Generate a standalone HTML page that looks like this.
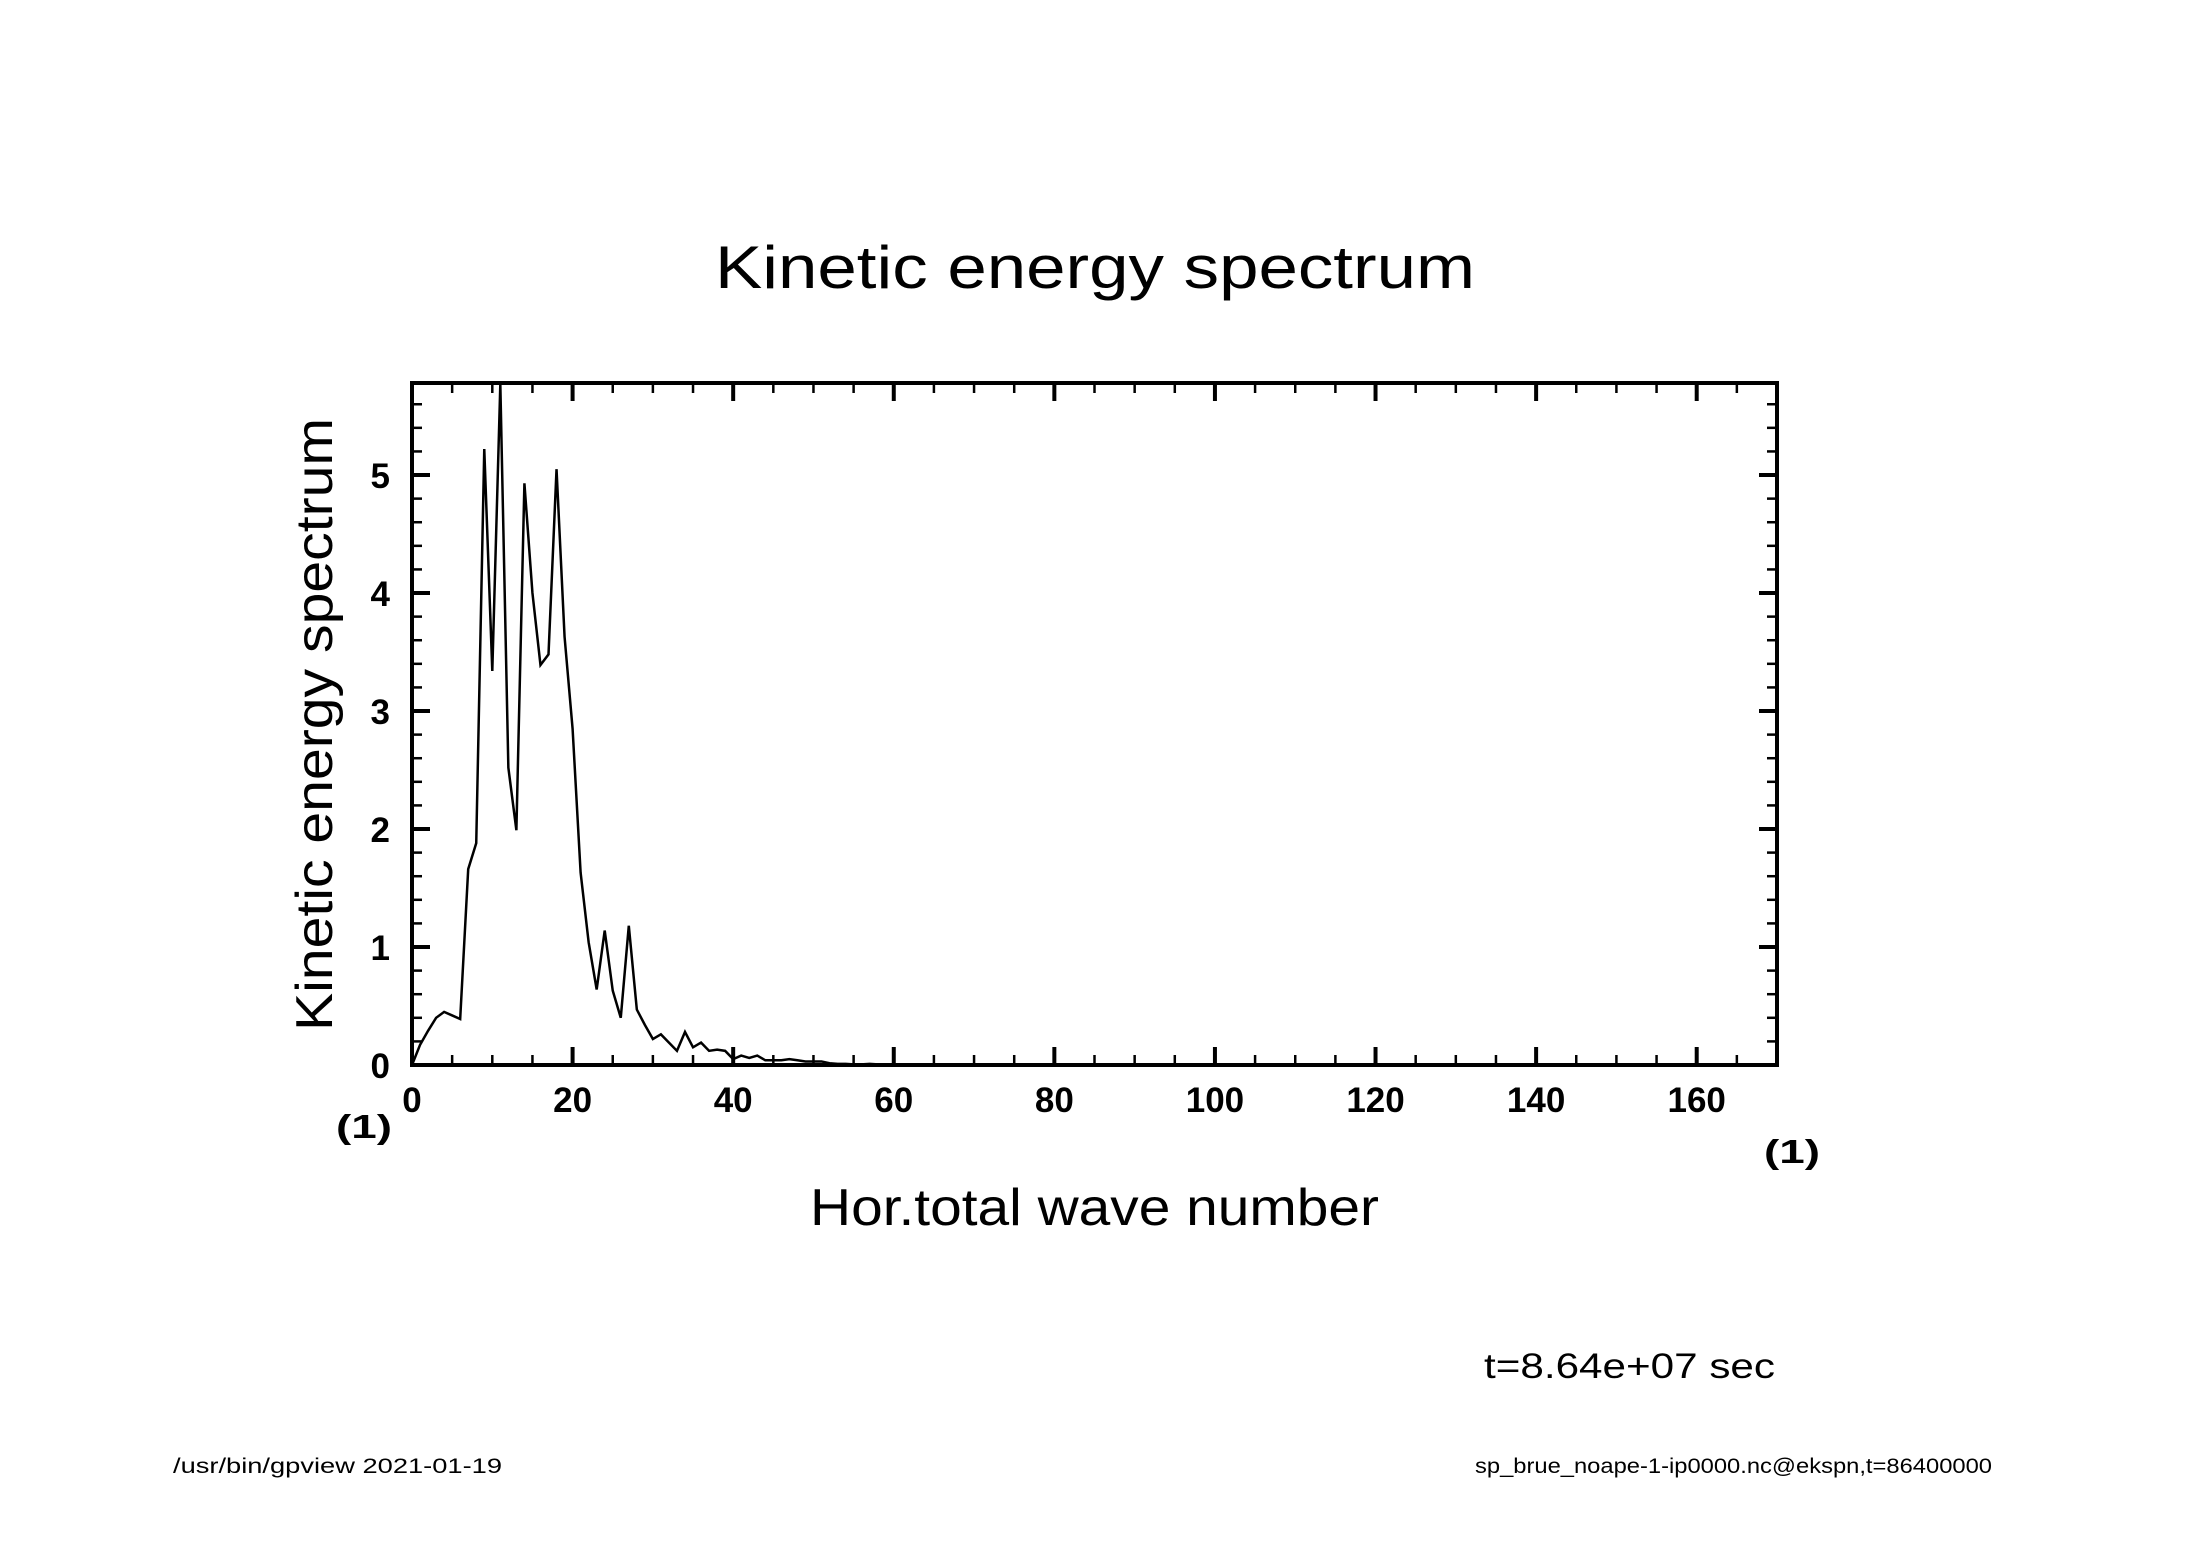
<!DOCTYPE html>
<html><head><meta charset="utf-8"><style>
html,body{margin:0;padding:0;background:#fff;}
svg{display:block;}
text{font-family:"Liberation Sans",sans-serif;fill:#000;}
</style></head><body>
<svg id="chart" width="2188" height="1546" viewBox="0 0 2188 1546" xmlns="http://www.w3.org/2000/svg">
<rect width="2188" height="1546" fill="#fff"/>
<text x="715" y="288" font-size="60" textLength="760" lengthAdjust="spacingAndGlyphs">Kinetic energy spectrum</text>
<text transform="translate(332,1031) rotate(-90)" font-size="52" textLength="613" lengthAdjust="spacingAndGlyphs">Kinetic energy spectrum</text>
<text x="810" y="1225" font-size="52" textLength="569" lengthAdjust="spacingAndGlyphs">Hor.total wave number</text>
<text x="336" y="1138" font-size="33" font-weight="bold" textLength="56" lengthAdjust="spacingAndGlyphs">(1)</text>
<text x="1764" y="1163" font-size="33" font-weight="bold" textLength="56" lengthAdjust="spacingAndGlyphs">(1)</text>
<text x="1484" y="1378" font-size="35" textLength="291" lengthAdjust="spacingAndGlyphs">t=8.64e+07 sec</text>
<text x="173" y="1473" font-size="21" textLength="329" lengthAdjust="spacingAndGlyphs">/usr/bin/gpview  2021-01-19</text>
<text x="1475" y="1473" font-size="21" textLength="517" lengthAdjust="spacingAndGlyphs">sp_brue_noape-1-ip0000.nc@ekspn,t=86400000</text>
<g id="ticks"></g>
<g id="series"></g>
<rect x="412" y="383" width="1365" height="682" fill="none" stroke="#000" stroke-width="4"/>
</svg>
<script>
const xTicks = [0,20,40,60,80,100,120,140,160];
const yTicks = [0,1,2,3,4,5];
const waveNumbers = [0,1,2,3,4,5,6,7,8,9,10,11,12,13,14,15,16,17,18,19,20,21,22,23,24,25,26,27,28,29,30,31,32,33,34,35,36,37,38,39,40,41,42,43,44,45,46,47,48,49,50,51,52,53,54,55,56,57,58,59,60,70,80,100,120,140,170];
const energy = [0,0.17,0.29,0.4,0.45,0.42,0.39,1.66,1.88,5.22,3.34,5.77,2.52,1.99,4.93,4.0,3.39,3.48,5.05,3.63,2.85,1.63,1.04,0.64,1.14,0.63,0.40,1.18,0.47,0.34,0.22,0.26,0.19,0.12,0.28,0.15,0.19,0.12,0.13,0.12,0.05,0.08,0.06,0.08,0.04,0.04,0.04,0.05,0.04,0.03,0.03,0.03,0.015,0.01,0.01,0.005,0.005,0.01,0.005,0.003,0.002,0.001,0,0,0,0,0];
const X0=412, X1=1777, Y0=1065, Y1=383, XMAX=170, YMAX=5.78;
const sx = v => X0 + (v/XMAX)*(X1-X0);
const sy = v => Y0 - (v/YMAX)*(Y0-Y1);
const NS="http://www.w3.org/2000/svg";
const tg=document.getElementById('ticks');
function line(x1,y1,x2,y2,w,name){
  const l=document.createElementNS(NS,'line');
  l.setAttribute('x1',x1);l.setAttribute('y1',y1);l.setAttribute('x2',x2);l.setAttribute('y2',y2);
  l.setAttribute('stroke','#000');l.setAttribute('stroke-width',w);
  
  
  tg.appendChild(l);
}
for(let v=0; v<=XMAX; v+=5){
  const major = v%20===0; const len = major?18:10; const x=sx(v);
  line(x,Y0,x,Y0-len,major?4:2.5,'x-tick');
  line(x,Y1,x,Y1+len,major?4:2.5,'x-tick-top');
}
for(let i=0; i*0.2<=YMAX; i++){
  const v=i*0.2; const major=i%5===0; const len=major?18:10; const y=sy(v);
  line(X0,y,X0+len,y,major?4:2.5,'y-tick');
  line(X1,y,X1-len,y,major?4:2.5,'y-tick-right');
}
xTicks.forEach(v=>{
  const t=document.createElementNS(NS,'text');
  t.setAttribute('x',sx(v));t.setAttribute('y',1112);t.setAttribute('text-anchor','middle');
  t.setAttribute('font-size','35');t.setAttribute('font-weight','bold');
  t.textContent=v;
  
  
  tg.appendChild(t);
});
yTicks.forEach(v=>{
  const t=document.createElementNS(NS,'text');
  t.setAttribute('x',390);t.setAttribute('y',sy(v)+13);t.setAttribute('text-anchor','end');
  t.setAttribute('font-size','35');t.setAttribute('font-weight','bold');
  t.textContent=v;
  
  
  tg.appendChild(t);
});
const p=document.createElementNS(NS,'polyline');
p.setAttribute('points', waveNumbers.map((k,i)=>sx(k)+','+sy(energy[i])).join(' '));
p.setAttribute('fill','none');p.setAttribute('stroke','#000');p.setAttribute('stroke-width','2.5');
p.setAttribute('stroke-linejoin','miter');


document.getElementById('series').appendChild(p);
</script>
</body></html>
